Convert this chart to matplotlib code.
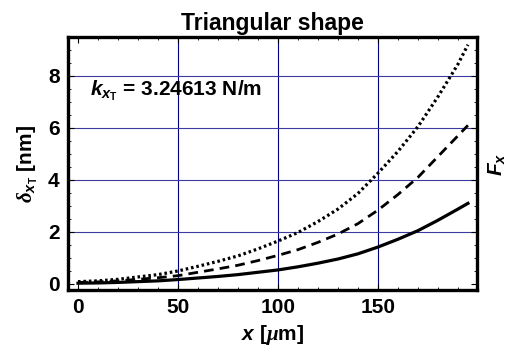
import matplotlib
matplotlib.use("Agg")
import matplotlib.pyplot as plt
from matplotlib.ticker import MultipleLocator

# deflection vs position along the cantilever
x_um = [0, 10, 20, 30, 40, 50, 60, 70, 80, 90, 100, 110, 120, 130, 140, 150, 160, 170, 180, 190, 195]
delta_f1 = [0.03, 0.04, 0.06, 0.09, 0.12, 0.17, 0.23, 0.29, 0.36, 0.45, 0.54, 0.66, 0.80,
            0.96, 1.16, 1.42, 1.72, 2.05, 2.45, 2.88, 3.10]
delta_f2 = [0.06, 0.08, 0.12, 0.18, 0.24, 0.32, 0.45, 0.58, 0.72, 0.90, 1.10, 1.32, 1.60,
            1.92, 2.32, 2.84, 3.44, 4.10, 4.90, 5.70, 6.10]
delta_f3 = [0.09, 0.12, 0.18, 0.27, 0.36, 0.50, 0.68, 0.87, 1.08, 1.35, 1.65, 1.98, 2.40,
            2.88, 3.48, 4.26, 5.10, 6.05, 7.20, 8.45, 9.20]

x_ticks = [0, 50, 100, 150]
y_ticks = [0, 2, 4, 6, 8]

plt.rcParams["font.family"] = ["Liberation Sans", "DejaVu Sans"]
plt.rcParams["font.weight"] = "bold"
plt.rcParams["axes.labelweight"] = "bold"
plt.rcParams["axes.titleweight"] = "bold"
plt.rcParams["mathtext.fontset"] = "custom"
plt.rcParams["mathtext.rm"] = "Liberation Sans:bold"
plt.rcParams["mathtext.it"] = "Liberation Sans:bold:italic"
plt.rcParams["mathtext.bf"] = "Liberation Sans:bold"
plt.rcParams["mathtext.sf"] = "Liberation Serif:italic"

fig = plt.figure(figsize=(5.09, 3.62), dpi=100)
ax = fig.add_axes([0.1336, 0.199, 0.8034, 0.699])

ax.plot(x_um, delta_f1, color="black", lw=2.3, ls="-")
ax.plot(x_um, delta_f2, color="black", lw=2.0, ls=(0, (3.5, 2.2)))
ax.plot(x_um, delta_f3, color="black", lw=2.3, ls=(0, (0.8, 0.9)))

for v in x_ticks[1:]:
    ax.axvline(v, color="#000080", lw=0.8, zorder=0)
for h in y_ticks[1:]:
    ax.axhline(h, color="#3a3aa0", lw=0.8, zorder=0)

ax.set_xlim(-5, 199.5)
ax.set_ylim(-0.23, 9.5)
ax.set_xticks(x_ticks)
ax.set_yticks(y_ticks)
ax.xaxis.set_minor_locator(MultipleLocator(10))
ax.yaxis.set_minor_locator(MultipleLocator(0.5))
ax.tick_params(which="both", direction="in", top=True, right=True)
ax.tick_params(which="major", length=4, width=0.8, labelsize=15, pad=6)
ax.tick_params(which="minor", length=2.5, width=0.6)
for s in ax.spines.values():
    s.set_linewidth(2.4)

ax.set_title("Triangular shape", fontsize=16.5, fontweight="bold", pad=5)
ax.set_xlabel(r"$x$ [$\mathsf{\mu}$m]", fontsize=15, fontweight="bold", labelpad=4)
ax.set_ylabel(r"$\mathsf{\delta}_{x_{\mathrm{T}}}$ [nm]", fontsize=15,
              fontweight="bold", labelpad=6)

ax.text(6, 7.25, r"$k_{x_{\mathrm{T}}}$ = 3.24613 N/m", fontsize=15,
        fontweight="bold", ha="left", va="baseline")

fig.text(0.956, 0.545, r"$F_x$", fontsize=15, rotation=90,
         ha="left", va="center")

fig.savefig("out.png", dpi=100)
